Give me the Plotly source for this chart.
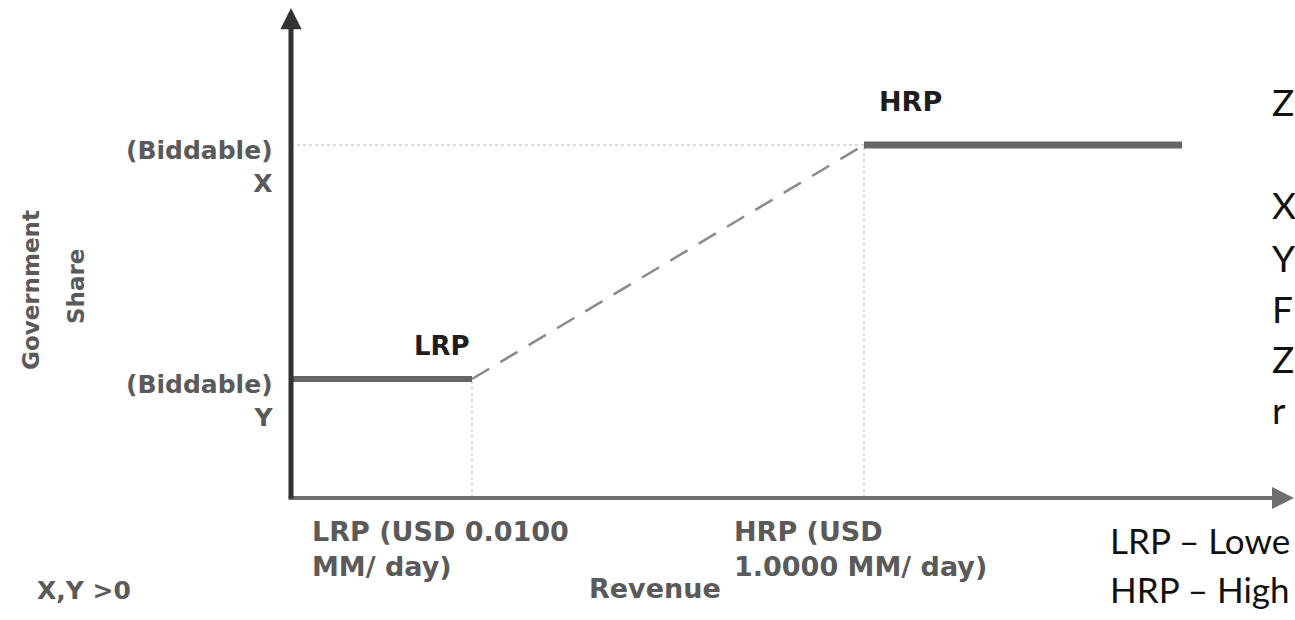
import plotly.graph_objects as go

# ---- data (diagram units) ----
revenue_points = [0.0, 1.81, 5.73, 8.91]      # origin, LRP, HRP, end of flat segment
share_levels = [1.19, 3.53]                   # Y (at LRP), X (at HRP)
x_tick_labels = ["LRP (USD 0.0100<br>MM/ day)", "HRP (USD<br>1.0000 MM/ day)"]
y_tick_labels = ["(Biddable)<br>Y", "(Biddable)<br>X"]
point_labels = ["LRP", "HRP"]
side_letters = ["Z", "X", "Y", "F", "Z", "r"]
legend_lines = ["LRP – Lowe", "HRP – High"]

W, H = 1295, 620
L_PX, T_PX, B_PX = 291, 8, 122
PW, PH = W - L_PX, H - T_PX - B_PX
UNIT = 100.0
X_MAX = PW / UNIT
Y_MAX = PH / UNIT


def px_paper(px):
    return (px - L_PX) / PW


def py_paper(py):
    return (H - B_PX - py) / PH


def dx(px):
    return (px - L_PX) / UNIT


lrp, hrp, xend = revenue_points[1], revenue_points[2], revenue_points[3]
y_low, y_high = share_levels

fig = go.Figure()

guide = dict(color="#cfcfcf", width=1.5, dash="dot")
fig.add_trace(go.Scatter(x=[0, hrp], y=[y_high, y_high], mode="lines", line=guide, hoverinfo="skip"))
fig.add_trace(go.Scatter(x=[hrp, hrp], y=[0, y_high], mode="lines", line=guide, hoverinfo="skip"))
fig.add_trace(go.Scatter(x=[lrp, lrp], y=[0, y_low], mode="lines", line=guide, hoverinfo="skip"))
fig.add_trace(go.Scatter(x=[lrp, hrp], y=[y_low, y_high], mode="lines",
                         line=dict(color="#8a8a8a", width=2.5, dash="20px,13px"), hoverinfo="skip"))
fig.add_trace(go.Scatter(x=[revenue_points[0], lrp], y=[y_low, y_low], mode="lines",
                         line=dict(color="#666666", width=6), hoverinfo="skip"))
fig.add_trace(go.Scatter(x=[hrp, xend], y=[y_high, y_high], mode="lines",
                         line=dict(color="#666666", width=7), hoverinfo="skip"))

ann = []
# axes with arrows
ann.append(dict(x=dx(1294), y=0, ax=dx(287), ay=0, xref="x", yref="y", axref="x", ayref="y",
                text="", showarrow=True, arrowhead=2, arrowsize=1.1, arrowwidth=4,
                arrowcolor="#6f6f6f"))
ann.append(dict(x=0, y=Y_MAX, ax=0, ay=-0.02, xref="x", yref="y", axref="x", ayref="y",
                text="", showarrow=True, arrowhead=2, arrowsize=0.85, arrowwidth=5,
                arrowcolor="#333333"))

gray = dict(family="DejaVu Sans", size=25, color="#5a5a5a", weight="bold")
gray_x = dict(gray, size=27)
dark = dict(family="DejaVu Sans", size=26, color="#1e1e1e", weight="bold")
calibri = dict(family="Lato", size=37, color="#111111")

# y tick labels
for lvl, txt in zip(share_levels, y_tick_labels):
    ann.append(dict(x=0, y=lvl, xref="x", yref="y", text=txt, showarrow=False,
                    xanchor="right", yanchor="middle", align="right", xshift=-16, yshift=-22,
                    font=gray))
# x tick labels
for xv, txt, sh in zip(revenue_points[1:3], x_tick_labels, [-162, -132]):
    ann.append(dict(x=xv, y=0, xref="x", yref="y", text=txt, showarrow=False,
                    xanchor="left", yanchor="top", align="left", xshift=sh, yshift=-16,
                    font=gray_x))
# point labels
ann.append(dict(x=lrp, y=y_low, xref="x", yref="y", text=point_labels[0], showarrow=False,
                xanchor="center", yanchor="middle", xshift=-30, yshift=33, font=dark))
ann.append(dict(x=hrp, y=y_high, xref="x", yref="y", text=point_labels[1], showarrow=False,
                xanchor="center", yanchor="middle", xshift=46, yshift=44,
                font=dict(dark, size=27)))
# axis titles and notes (paper positioned)
ann.append(dict(x=px_paper(16), y=py_paper(290), xref="paper", yref="paper", text="Government",
                textangle=-90, showarrow=False, font=dict(gray, size=23)))
ann.append(dict(x=px_paper(61), y=py_paper(287), xref="paper", yref="paper", text="Share",
                textangle=-90, showarrow=False, font=dict(gray, size=23)))
ann.append(dict(x=px_paper(655), y=py_paper(606), xref="paper", yref="paper", text="Revenue",
                showarrow=False, font=dict(gray, size=27)))
ann.append(dict(x=px_paper(35), y=py_paper(607), xref="paper", yref="paper", text="X,Y >0",
                xanchor="left", showarrow=False, font=gray))
# right-side text
for t, ypx in zip(side_letters, [101, 204, 257, 308, 358, 409]):
    ann.append(dict(x=px_paper(1270), y=py_paper(ypx), xref="paper", yref="paper", text=t,
                    xanchor="left", yanchor="middle", showarrow=False, font=calibri))
for t, ypx in zip(legend_lines, [540, 589]):
    ann.append(dict(x=px_paper(1108), y=py_paper(ypx), xref="paper", yref="paper", text=t,
                    xanchor="left", yanchor="middle", showarrow=False,
                    font=dict(calibri, size=35)))

fig.update_layout(
    width=W, height=H,
    margin=dict(l=L_PX, r=0, t=T_PX, b=B_PX),
    paper_bgcolor="white", plot_bgcolor="white",
    showlegend=False,
    xaxis=dict(range=[0, X_MAX], visible=False, fixedrange=True),
    yaxis=dict(range=[0, Y_MAX], visible=False, fixedrange=True),
    annotations=ann,
)

fig.write_html("out.html", config={"displayModeBar": False},
               post_script="document.body.style.margin='0';")
